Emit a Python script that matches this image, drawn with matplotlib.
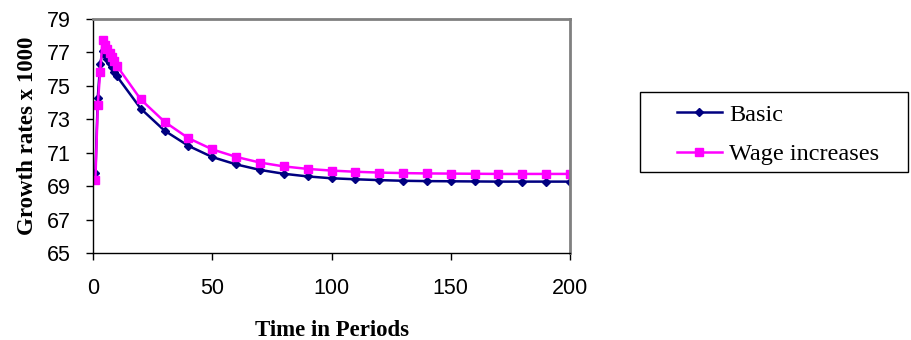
import matplotlib.pyplot as plt
from matplotlib.patches import Rectangle

periods = [1, 2, 3, 4, 5, 6, 7, 8, 9, 10,
           20, 30, 40, 50, 60, 70, 80, 90, 100,
           110, 120, 130, 140, 150, 160, 170, 180, 190, 200]
basic = [69.77, 74.3, 76.3, 77.07, 76.85, 76.6, 76.35, 76.1, 75.85, 75.58,
         73.64, 72.32, 71.41, 70.74, 70.3, 69.97, 69.74, 69.58, 69.47,
         69.41, 69.36, 69.32, 69.30, 69.29, 69.28, 69.27, 69.27, 69.27, 69.27]
wage = [69.38, 73.88, 75.86, 77.72, 77.47, 77.22, 76.97, 76.72, 76.47, 76.2,
        74.19, 72.85, 71.87, 71.2, 70.75, 70.41, 70.18, 70.03, 69.93,
        69.86, 69.81, 69.78, 69.76, 69.75, 69.74, 69.73, 69.73, 69.73, 69.73]
yticks = [65, 67, 69, 71, 73, 75, 77, 79]
xticks = [0, 50, 100, 150, 200]

fig = plt.figure(figsize=(9.12, 3.4), dpi=100)
ax = fig.add_axes([0.102, 0.256, 0.523, 0.688])

ax.plot(periods, basic, color='#000080', lw=1.8, marker='D', ms=4.5,
        label='Basic')
ax.plot(periods, wage, color='#FF00FF', lw=1.8, marker='s', ms=5.5,
        label='Wage increases')

ax.set_xlim(0, 200)
ax.set_ylim(65, 79)
ax.set_xticks(xticks)
ax.set_yticks(yticks)
ax.tick_params(labelsize=15.5, length=5, width=1, direction='out')
ax.tick_params(axis='x', pad=13)
ax.tick_params(axis='y', pad=11)
for lab in ax.get_xticklabels() + ax.get_yticklabels():
    lab.set_family('Liberation Sans')

for s in ['top', 'right']:
    ax.spines[s].set_color('#808080')
    ax.spines[s].set_linewidth(2)
for s in ['left', 'bottom']:
    ax.spines[s].set_color('black')
    ax.spines[s].set_linewidth(1)

ax.set_xlabel('Time in Periods', family='Liberation Serif', fontweight='bold',
              fontsize=16.5, labelpad=15)
ax.set_ylabel('Growth rates x 1000', family='Liberation Serif',
              fontweight='bold', fontsize=16.5, labelpad=6)

# legend frame drawn separately so its padding matches
fig.patches.append(Rectangle((0.702, 0.494), 0.294, 0.235,
                             transform=fig.transFigure, fill=False,
                             edgecolor='black', lw=1))
leg = fig.legend(loc='center left', bbox_to_anchor=(0.742, 0.605),
                 frameon=False, prop={'family': 'Liberation Serif', 'size': 17.5},
                 handlelength=1.85, handletextpad=0.3, labelspacing=0.72,
                 borderpad=0, borderaxespad=0)

fig.savefig('out.png', dpi=100)
